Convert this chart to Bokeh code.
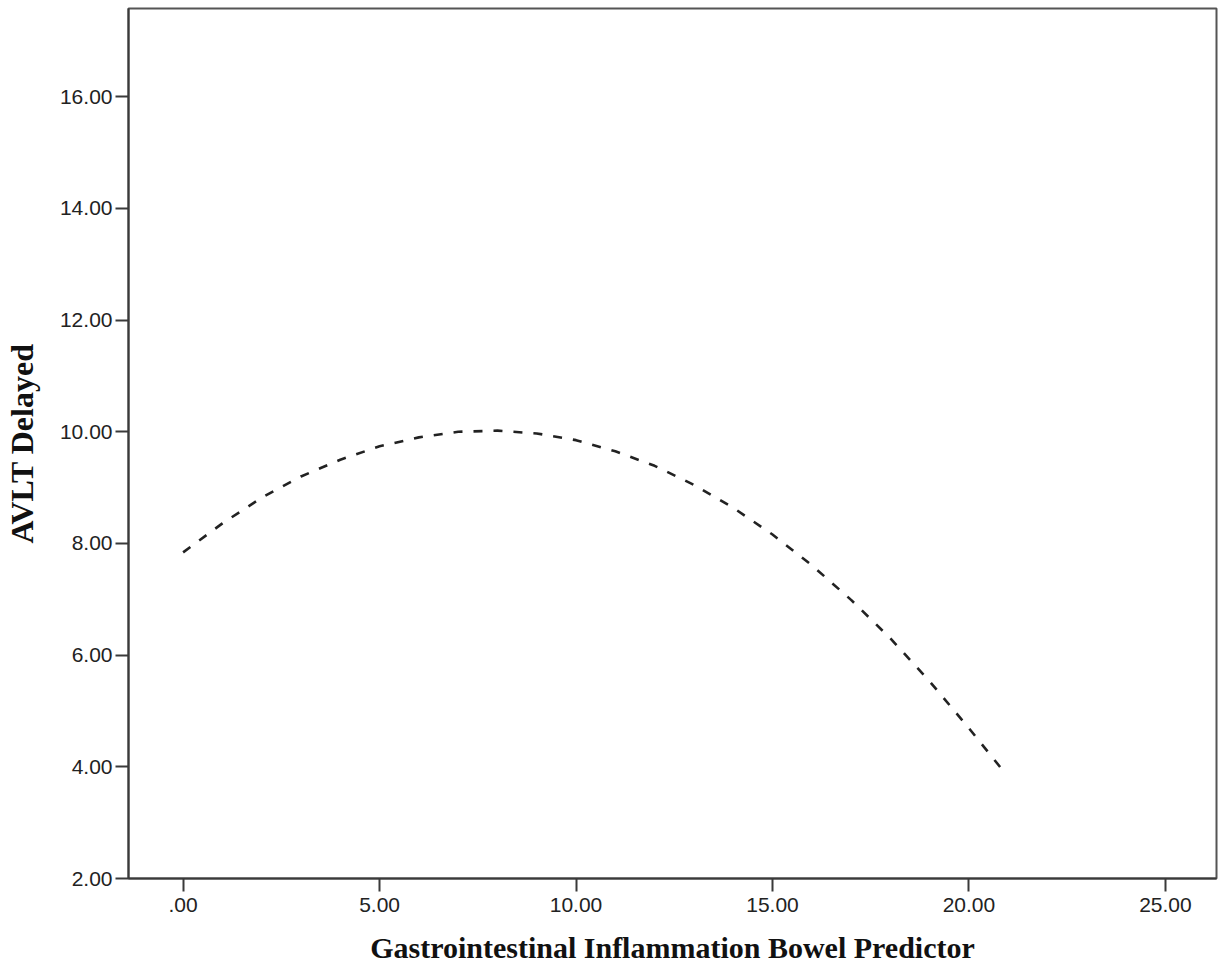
from bokeh.plotting import figure
from bokeh.models import FixedTicker, Range1d
from bokeh.embed import file_html
from bokeh.resources import INLINE

# Data (quadratic fit line)
predictor = [0, 1, 2, 3, 4, 5, 6, 7, 8, 9, 10, 11, 12, 13, 14, 15, 16, 17, 18, 19, 20, 20.95]
avlt_delayed = [7.84, 8.36, 8.82, 9.20, 9.50, 9.74, 9.90, 10.00, 10.02, 9.97, 9.85, 9.65,
                9.39, 9.05, 8.64, 8.16, 7.61, 6.99, 6.30, 5.53, 4.69, 3.86]

x_ticks = [0, 5, 10, 15, 20, 25]
x_tick_labels = [".00", "5.00", "10.00", "15.00", "20.00", "25.00"]
y_ticks = [2, 4, 6, 8, 10, 12, 14, 16]
y_tick_labels = ["2.00", "4.00", "6.00", "8.00", "10.00", "12.00", "14.00", "16.00"]

p = figure(frame_width=1088, frame_height=870, output_backend="svg", toolbar_location=None,
           x_range=Range1d(-1.39, 26.3), y_range=Range1d(2, 17.58),
           min_border_left=122, min_border_right=3, min_border_top=8, min_border_bottom=86)

p.line(predictor, avlt_delayed, line_color="#222222", line_width=2.6, line_dash="9 11")

p.xgrid.visible = False
p.ygrid.visible = False
p.background_fill_color = "white"
p.border_fill_color = "white"
p.outline_line_color = "#555555"
p.outline_line_width = 2

for ax, ticks, labels in ((p.xaxis[0], x_ticks, x_tick_labels), (p.yaxis[0], y_ticks, y_tick_labels)):
    ax.ticker = FixedTicker(ticks=ticks)
    ax.major_label_overrides = {t: l for t, l in zip(ticks, labels)}
    ax.axis_line_color = "#3a3a3a"
    ax.axis_line_width = 2
    ax.major_tick_line_color = "#3a3a3a"
    ax.major_tick_line_width = 2
    ax.major_tick_out = 13
    ax.major_tick_in = 0
    ax.minor_tick_line_color = None
    ax.major_label_text_font = "Liberation Sans"
    ax.major_label_text_font_size = "21px"
    ax.major_label_text_color = "#222222"
    ax.axis_label_text_font = "Liberation Serif"
    ax.axis_label_text_font_style = "bold"
    ax.axis_label_text_color = "#111111"

p.xaxis.axis_label = "Gastrointestinal Inflammation Bowel Predictor"
p.yaxis.axis_label = "AVLT Delayed"
p.xaxis.axis_label_text_font_size = "30px"
p.yaxis.axis_label_text_font_size = "32px"
p.xaxis.major_label_standoff = 6
p.yaxis.major_label_standoff = 3
p.xaxis.axis_label_standoff = 16
p.yaxis.axis_label_standoff = 17

open("out.html", "w").write(file_html(p, INLINE))
